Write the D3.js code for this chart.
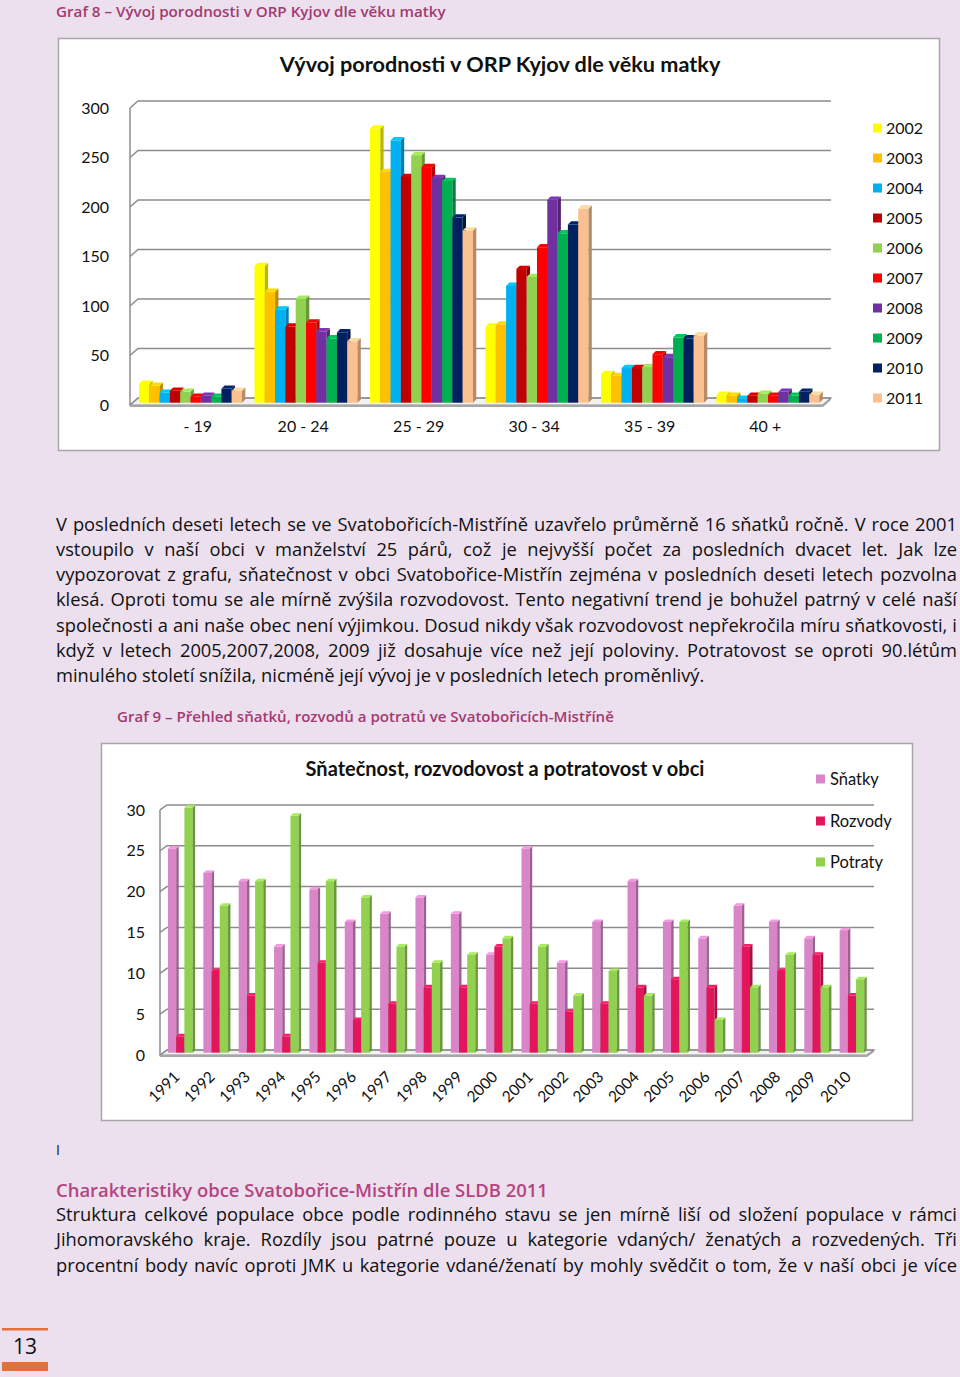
<!DOCTYPE html>
<html><head><meta charset="utf-8">
<script src="https://cdn.jsdelivr.net/npm/d3@7"></script>
<style>
html,body{margin:0;padding:0;}
body{width:960px;height:1377px;background:#ecdfee;position:relative;overflow:hidden;}
.jl{position:absolute;left:56px;width:901px;height:22px;line-height:22px;white-space:nowrap;text-align:justify;text-align-last:justify;color:#111;font-family:'Open Sans',sans-serif;}
.jl.last{text-align-last:left;}
#meas{position:absolute;left:0;top:-100px;white-space:nowrap;font-family:'Open Sans',sans-serif;font-size:16px;visibility:hidden;}
</style></head><body>
<svg id="page" width="960" height="1377" style="position:absolute;left:0;top:0"></svg>
<span id="meas"></span>
<script>
// ---------- Chart 1 data: births by mother's age ----------
const ageGroups = ["- 19","20 - 24","25 - 29","30 - 34","35 - 39","40 +"];
const birthYears = ["2002","2003","2004","2005","2006","2007","2008","2009","2010","2011"];
const births2002 = [19,138,277,77,29,8];
const births2003 = [17,112,233,79,27,7];
const births2004 = [10,94,265,118,35,4];
const births2005 = [12,77,228,135,35,7];
const births2006 = [11,105,250,127,36,9];
const births2007 = [6,81,238,157,49,7];
const births2008 = [7,72,227,205,46,11];
const births2009 = [6,65,224,171,66,7];
const births2010 = [14,71,187,180,65,11];
const births2011 = [12,62,174,196,68,8];
const birthSeries = [births2002,births2003,births2004,births2005,births2006,births2007,births2008,births2009,births2010,births2011];
const yearColors = ["#ffff00","#ffc000","#00b0f0","#c00000","#92d050","#ff0000","#7030a0","#00b050","#002060","#fac090"];
const birthTicks = [0,50,100,150,200,250,300];

// ---------- Chart 2 data: marriages, divorces, abortions ----------
const marriageYears = ["1991","1992","1993","1994","1995","1996","1997","1998","1999","2000","2001","2002","2003","2004","2005","2006","2007","2008","2009","2010"];
const snatky  = [25,22,21,13,20,16,17,19,17,12,25,11,16,21,16,14,18,16,14,15];
const rozvody = [2,10,7,2,11,4,6,8,8,13,6,5,6,8,9,8,13,10,12,7];
const potraty = [30,18,21,29,21,19,13,11,12,14,13,7,10,7,16,4,8,12,8,9];
const marriageSeriesNames = ["Sňatky","Rozvody","Potraty"];
const marriageSeries = [snatky,rozvody,potraty];
const marriageColors = ["#d886c8","#e2175b","#92d050"];
const marriageTicks = [0,5,10,15,20,25,30];

// ---------- texts ----------
const para1 = [
 "V posledních deseti letech se ve Svatobořicích-Mistříně uzavřelo průměrně 16 sňatků ročně.  V roce 2001",
 "vstoupilo v naší obci v manželství 25 párů, což je nejvyšší počet za posledních dvacet let. Jak lze",
 "vypozorovat z grafu, sňatečnost v obci Svatobořice-Mistřín zejména v posledních deseti letech pozvolna",
 "klesá. Oproti tomu se ale mírně zvýšila rozvodovost. Tento negativní trend je bohužel patrný v celé naší",
 "společnosti a ani naše obec není výjimkou. Dosud nikdy však rozvodovost nepřekročila míru sňatkovosti, i",
 "když v letech 2005,2007,2008, 2009 již dosahuje více než její poloviny. Potratovost se oproti 90.létům",
 "minulého století snížila, nicméně její vývoj je v posledních letech proměnlivý."
];
const para2 = [
 "Struktura celkové populace obce podle rodinného stavu se jen mírně liší od složení populace v rámci",
 "Jihomoravského kraje. Rozdíly jsou patrné pouze u kategorie vdaných/ ženatých a rozvedených. Tři",
 "procentní body navíc oproti JMK u kategorie vdané/ženatí by mohly svědčit o tom, že v naší obci je více"
];

const svg = d3.select("#page");
const chartFont = "Lato, 'Open Sans', sans-serif";
const bodyFont = "'Open Sans', sans-serif";

function fit(sel, target){
  const w = sel.node().getComputedTextLength();
  const fs = parseFloat(sel.attr("font-size"));
  sel.attr("font-size", fs*target/w);
}

function bar3d(g, x, yTop, yBase, w, d, color){
  const c = d3.color(color);
  g.append("rect").attr("x",x).attr("y",yTop).attr("width",w).attr("height",Math.max(0,yBase-yTop)).attr("fill",color);
  g.append("polygon").attr("points",[[x+w,yBase],[x+w+d,yBase-d],[x+w+d,yTop-d],[x+w,yTop]].join(" "))
    .attr("fill",c.darker(0.9));
  g.append("polygon").attr("points",[[x,yTop],[x+d,yTop-d],[x+w+d,yTop-d],[x+w,yTop]].join(" "))
    .attr("fill",c.brighter(0.35));
}

// ---------- captions ----------
const cap1 = svg.append("text").attr("x",56).attr("y",11).attr("dominant-baseline","central")
  .attr("font-family",bodyFont).attr("font-weight",600).attr("font-size",14).attr("fill","#a33a70")
  .text("Graf 8 – Vývoj porodnosti v ORP Kyjov dle věku matky");
fit(cap1, 390);

// ---------- Chart 1 ----------
const c1 = svg.append("g");
c1.append("rect").attr("x",58.5).attr("y",38.5).attr("width",881).attr("height",412)
  .attr("fill","#fff").attr("stroke","#a6a6a6").attr("stroke-width",1.5);
const t1 = c1.append("text").attr("x",500).attr("y",64).attr("text-anchor","middle").attr("dominant-baseline","central")
  .attr("font-family",chartFont).attr("font-weight","bold").attr("font-size",20).attr("fill","#111")
  .text("Vývoj porodnosti v ORP Kyjov dle věku matky");
fit(t1, 441);

const x1 = d3.scaleBand().domain(ageGroups).range([130, 823]);
const xi1 = d3.scaleBand().domain(birthYears).range([9, 112]);
const y1 = d3.scaleLinear().domain([0,300]).range([402.7, 105.7]);
const fd1 = {dx:8, dy:-7};
const yFront1 = v => y1(v) + 2.3;
const yBack1 = v => y1(v) + 2.3 + fd1.dy;

c1.append("polygon").attr("points",[[130,yFront1(0)],[130+fd1.dx,yBack1(0)],[823+fd1.dx,yBack1(0)],[823,yFront1(0)]].join(" "))
  .attr("fill","#f2f2f2").attr("stroke","#8c8c8c").attr("stroke-width",1.2);
c1.append("polygon").attr("points",[[130,yFront1(0)],[823,yFront1(0)],[823,yFront1(0)+2],[130,yFront1(0)+2]].join(" ")).attr("fill","#a6a6a6");
c1.append("polygon").attr("points",[[823,yFront1(0)],[823+fd1.dx,yBack1(0)],[823+fd1.dx,yBack1(0)+2],[823,yFront1(0)+2]].join(" ")).attr("fill","#a6a6a6");
birthTicks.forEach(t=>{
  c1.append("path").attr("d",`M130,${yFront1(t)}L${130+fd1.dx},${yBack1(t)}L${823+fd1.dx},${yBack1(t)}`)
    .attr("fill","none").attr("stroke","#8c8c8c").attr("stroke-width",1.5);
});
c1.append("line").attr("x1",130).attr("x2",130).attr("y1",yFront1(300)).attr("y2",yFront1(0)).attr("stroke","#8c8c8c").attr("stroke-width",1.5);
c1.selectAll("text.yl").data(birthTicks).join("text").attr("class","yl")
  .attr("x",109).attr("y",d=>yFront1(d)).attr("dy","0.35em").attr("text-anchor","end")
  .attr("font-family",chartFont).attr("font-size",16).attr("fill","#111").text(d=>d);
ageGroups.forEach((g,gi)=>{
  birthYears.forEach((yr,si)=>{
    const v = birthSeries[si][gi];
    bar3d(c1, x1(g)+xi1(yr), y1(v), y1(0), xi1.bandwidth(), 3.3, yearColors[si]);
  });
});
c1.selectAll("text.xl").data(ageGroups).join("text").attr("class","xl")
  .attr("x",(d,i)=>x1(d)+x1.bandwidth()/2 + (i===0?10:0)).attr("y",426).attr("dy","0.35em").attr("text-anchor","middle")
  .attr("font-family",chartFont).attr("font-size",16).attr("fill","#111").text(d=>d);
birthYears.forEach((yr,i)=>{
  const cy = 128 + i*30;
  c1.append("rect").attr("x",873).attr("y",cy-4.5).attr("width",9).attr("height",9).attr("fill",yearColors[i]);
  c1.append("text").attr("x",886).attr("y",cy).attr("dy","0.35em").attr("font-family",chartFont)
    .attr("font-size",16).attr("fill","#111").text(yr);
});

// ---------- body text ----------
const meas = document.getElementById("meas");
function natW(l){ meas.textContent = l.replace(/\s+/g," "); return meas.getBoundingClientRect().width; }
const maxW = d3.max(para1.slice(0,6).concat(para2), natW);
const bodyFs = 16*898/maxW;
function para(lines, cys, lastLeft){
  lines.forEach((ln,i)=>{
    d3.select("body").append("div").attr("class","jl"+(lastLeft && i===lines.length-1?" last":""))
      .style("top",(cys[i]-11)+"px").style("font-size",bodyFs+"px").text(ln);
  });
}
para(para1,[524,549,574,599,625,650,675], true);
para(para2,[1214,1239,1265], false);

const cap2 = svg.append("text").attr("x",117).attr("y",716).attr("dominant-baseline","central")
  .attr("font-family",bodyFont).attr("font-weight",600).attr("font-size",14).attr("fill","#a33a70")
  .text("Graf 9 – Přehled sňatků, rozvodů a potratů ve Svatobořicích-Mistříně");
fit(cap2, 497);

// ---------- Chart 2 ----------
const c2 = svg.append("g");
c2.append("rect").attr("x",101.5).attr("y",743.5).attr("width",811).attr("height",377)
  .attr("fill","#fff").attr("stroke","#a6a6a6").attr("stroke-width",1.5);
const t2 = c2.append("text").attr("x",505).attr("y",768).attr("text-anchor","middle").attr("dominant-baseline","central")
  .attr("font-family",chartFont).attr("font-weight","bold").attr("font-size",18).attr("fill","#111")
  .text("Sňatečnost, rozvodovost a potratovost v obci");
fit(t2, 399);

const x2 = d3.scaleBand().domain(marriageYears).range([160, 867]);
const xi2 = d3.scaleBand().domain(marriageSeriesNames).range([8, 32.6]);
const y2 = d3.scaleLinear().domain([0,30]).range([1052.7, 807.6]);
const fd2 = {dx:7, dy:-5};
const yFront2 = v => y2(v) + 2.3;
const yBack2 = v => y2(v) + 2.3 + fd2.dy;

c2.append("polygon").attr("points",[[160,yFront2(0)],[160+fd2.dx,yBack2(0)],[867+fd2.dx,yBack2(0)],[867,yFront2(0)]].join(" "))
  .attr("fill","#f2f2f2").attr("stroke","#8c8c8c").attr("stroke-width",1.2);
c2.append("polygon").attr("points",[[160,yFront2(0)],[867,yFront2(0)],[867,yFront2(0)+2],[160,yFront2(0)+2]].join(" ")).attr("fill","#a6a6a6");
c2.append("polygon").attr("points",[[867,yFront2(0)],[867+fd2.dx,yBack2(0)],[867+fd2.dx,yBack2(0)+2],[867,yFront2(0)+2]].join(" ")).attr("fill","#a6a6a6");
marriageTicks.forEach(t=>{
  c2.append("path").attr("d",`M160,${yFront2(t)}L${160+fd2.dx},${yBack2(t)}L${867+fd2.dx},${yBack2(t)}`)
    .attr("fill","none").attr("stroke","#8c8c8c").attr("stroke-width",1.5);
});
c2.append("line").attr("x1",160).attr("x2",160).attr("y1",yFront2(30)).attr("y2",yFront2(0)).attr("stroke","#8c8c8c").attr("stroke-width",1.5);
c2.selectAll("text.yl").data(marriageTicks).join("text").attr("class","yl")
  .attr("x",145).attr("y",d=>yFront2(d)).attr("dy","0.35em").attr("text-anchor","end")
  .attr("font-family",chartFont).attr("font-size",16).attr("fill","#111").text(d=>d);
marriageYears.forEach((yr,gi)=>{
  marriageSeriesNames.forEach((s,si)=>{
    const v = marriageSeries[si][gi];
    bar3d(c2, x2(yr)+xi2(s), y2(v), y2(0), xi2.bandwidth(), 2.5, marriageColors[si]);
  });
});
c2.selectAll("text.xl").data(marriageYears).join("text").attr("class","xl")
  .attr("transform",d=>`translate(${x2(d)+x2.bandwidth()/2-1},1074) rotate(-45)`)
  .attr("dy","0.35em").attr("text-anchor","end")
  .attr("font-family",chartFont).attr("font-size",15.5).attr("fill","#111").text(d=>d);
marriageSeriesNames.forEach((s,i)=>{
  const cy = [779,821,862][i];
  c2.append("rect").attr("x",816).attr("y",cy-4.5).attr("width",9).attr("height",9).attr("fill",marriageColors[i]);
  c2.append("text").attr("x",830).attr("y",cy).attr("dy","0.35em").attr("font-family",chartFont)
    .attr("font-size",16.5).attr("fill","#111").text(s);
});

// ---------- tail of page ----------
svg.append("text").attr("x",56).attr("y",1149).attr("dominant-baseline","central")
  .attr("font-family",bodyFont).attr("font-size",14).attr("fill","#111").text("I");
const head = svg.append("text").attr("x",56).attr("y",1189).attr("dominant-baseline","central")
  .attr("font-family",bodyFont).attr("font-weight",600).attr("font-size",19).attr("fill","#b4447f")
  .text("Charakteristiky obce Svatobořice-Mistřín dle SLDB 2011");
fit(head, 492);

svg.append("rect").attr("x",2).attr("y",1328).attr("width",46).attr("height",2.5).attr("fill","#e4703a");
svg.append("rect").attr("x",2).attr("y",1362).attr("width",46).attr("height",9).attr("fill","#e4703a");
svg.append("text").attr("x",25).attr("y",1346).attr("text-anchor","middle").attr("dominant-baseline","central")
  .attr("font-family",bodyFont).attr("font-size",21).attr("fill","#111").text("13");
</script>
</body></html>
